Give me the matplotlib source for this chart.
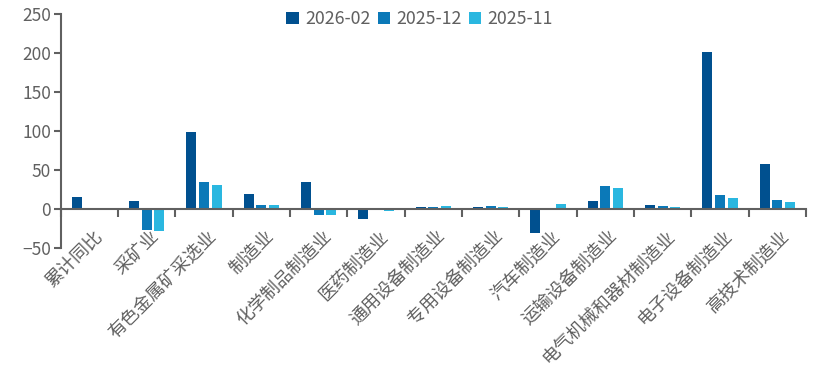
import matplotlib
matplotlib.use("Agg")
import matplotlib.pyplot as plt
import matplotlib.transforms as mtransforms
import numpy as np

plt.rcParams['font.family'] = ['Noto Sans CJK SC', 'DejaVu Sans']

categories = ['累计同比', '采矿业', '有色金属矿采选业', '制造业', '化学制品制造业', '医药制造业',
              '通用设备制造业', '专用设备制造业', '汽车制造业', '运输设备制造业',
              '电气机械和器材制造业', '电子设备制造业', '高技术制造业']
v_2026_02 = [15, 10, 99, 19, 35, -13, 3, 3, -31, 11, 5.5, 202, 58]
v_2025_12 = [2, -27, 35, 5, -8, 2, 3, 4.5, 2, 30, 4.5, 18, 12]
v_2025_11 = [0, -28.5, 31.5, 5, -8, -2.5, 4.5, 3, 7, 27, 3, 14.5, 9.5]
series = ['2026-02', '2025-12', '2025-11']
colors = ['#00508f', '#0b79b8', '#2ab7e0']
gray = '#606060'

fig = plt.figure(figsize=(8.31, 3.83), dpi=100)
ax = fig.add_axes([0.073, 0.352, 0.897, 0.611])

x = np.arange(len(categories))
w = 0.175
step = 0.22
for i, (vals, name, c) in enumerate(zip([v_2026_02, v_2025_12, v_2025_11], series, colors)):
    ax.bar(x + (i - 1) * step, vals, width=w, color=c, label=name, zorder=2)

ax.set_xlim(-0.5, len(categories) - 0.5)
ax.set_ylim(-50, 250)
ax.set_yticks(np.arange(-50, 251, 50))

for s in ['top', 'right']:
    ax.spines[s].set_visible(False)
ax.spines['bottom'].set_position(('data', 0))
for s in ['bottom', 'left']:
    ax.spines[s].set_color(gray)
    ax.spines[s].set_linewidth(1.5)
ax.spines['bottom'].set_zorder(3)

ax.set_xticks(x)
ax.set_xticklabels(categories, rotation=45, ha='right', rotation_mode='anchor',
                   fontsize=13, color=gray)
ax.tick_params(axis='x', length=0, pad=13)
shift = mtransforms.ScaledTranslation(2.5 / 72, 0, fig.dpi_scale_trans)
for lab in ax.get_xticklabels():
    lab.set_transform(lab.get_transform() + shift)
ax.set_xticks(np.arange(-0.5, len(categories)), minor=True)
ax.tick_params(axis='x', which='minor', length=6, width=1.5, color=gray, direction='out')
ax.tick_params(axis='y', labelsize=12.5, labelcolor=gray, length=5, width=1.5, color=gray, pad=2)

fig.legend(loc='upper center', bbox_to_anchor=(0.505, 1.015), ncol=3, frameon=False,
           fontsize=12.8, handlelength=0.7, handleheight=0.7, handletextpad=0.35,
           columnspacing=0.4, labelcolor=gray)

fig.savefig('out.png', dpi=100)
